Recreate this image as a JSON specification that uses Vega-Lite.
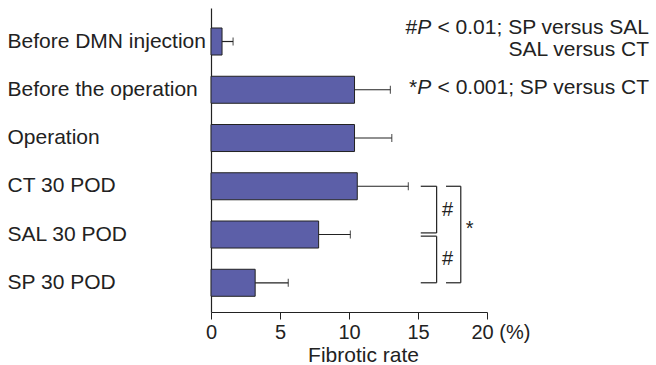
{
  "$schema": "https://vega.github.io/schema/vega-lite/v6.json",
  "width": 276,
  "height": 304,
  "autosize": {"type": "none"},
  "padding": {"left": 211, "top": 8, "right": 169, "bottom": 53},
  "config": {
    "view": {"stroke": null},
    "font": "Liberation Sans",
    "text": {"font": "Liberation Sans", "fontSize": 21, "color": "#222222"},
    "axis": {"domainColor": "#222222", "tickColor": "#222222", "labelColor": "#222222", "titleColor": "#222222", "labelFont": "Liberation Sans", "titleFont": "Liberation Sans", "grid": false, "domainWidth": 1.2}
  },
  "datasets": {
    "bars": [
      {"group": "Before DMN injection", "mean": 0.8, "upper": 1.6},
      {"group": "Before the operation", "mean": 10.4, "upper": 13.0},
      {"group": "Operation", "mean": 10.4, "upper": 13.1},
      {"group": "CT 30 POD", "mean": 10.6, "upper": 14.3},
      {"group": "SAL 30 POD", "mean": 7.8, "upper": 10.1},
      {"group": "SP 30 POD", "mean": 3.2, "upper": 5.6}
    ],
    "hcenter": [
      {"group": "CT 30 POD", "x1": 15.2, "x2": 16.35},
      {"group": "SP 30 POD", "x1": 15.2, "x2": 16.35},
      {"group": "CT 30 POD", "x1": 17.03, "x2": 18.1},
      {"group": "SP 30 POD", "x1": 17.03, "x2": 18.1}
    ],
    "hsal": [
      {"group": "SAL 30 POD", "x1": 15.2, "x2": 16.35}
    ],
    "vert": [
      {"id": "A", "x": 16.35, "from": "CT 30 POD", "to": "SAL 30 POD"},
      {"id": "B", "x": 16.35, "from": "SAL 30 POD", "to": "SP 30 POD"},
      {"id": "O", "x": 18.1, "from": "CT 30 POD", "to": "SP 30 POD"}
    ],
    "hash": [
      {"group": "CT 30 POD", "t": "#", "x": 17.15},
      {"group": "SAL 30 POD", "t": "#", "x": 17.15}
    ],
    "star": [
      {"group": "SAL 30 POD", "t": "*", "x": 18.75}
    ],
    "line1": [
      {"group": "Before DMN injection", "t": "#", "x": 14.95},
      {"group": "Before DMN injection", "t": "< 0.01; SP versus SAL", "x": 31.74}
    ],
    "line1p": [
      {"group": "Before DMN injection", "t": "P", "x": 15.96}
    ],
    "line2": [
      {"group": "Before DMN injection", "t": "SAL versus CT", "x": 31.74}
    ],
    "line3": [
      {"group": "Before the operation", "t": "*", "x": 14.95},
      {"group": "Before the operation", "t": "< 0.001; SP versus CT", "x": 31.74}
    ],
    "line3p": [
      {"group": "Before the operation", "t": "P", "x": 15.96}
    ]
  },
  "layer": [
    {
      "data": {"name": "bars"},
      "mark": {"type": "bar", "color": "#5C5FA8", "stroke": "#222222", "strokeWidth": 1},
      "encoding": {
        "x": {
          "field": "mean", "type": "quantitative",
          "scale": {"domain": [0, 20], "nice": false},
          "axis": {
            "values": [0, 5, 10, 15, 20],
            "tickSize": 7,
            "labelPadding": 3,
            "labelFontSize": 20,
            "labelFlush": false,
            "labelOverlap": false,
            "labelExpr": "datum.value == 20 ? '20 (%)' : datum.label",
            "labelAlign": {"condition": {"test": "datum.value == 20", "value": "left"}, "value": "center"},
            "labelOffset": {"condition": {"test": "datum.value == 20", "value": -16}, "value": 0},
            "title": "Fibrotic rate",
            "titleFontSize": 21,
            "titleFontWeight": "normal",
            "titleBaseline": "alphabetic",
            "titleAlign": "center",
            "titleX": 152,
            "titleY": 49
          }
        },
        "y": {
          "field": "group", "type": "nominal",
          "scale": {
            "domain": ["Before DMN injection", "Before the operation", "Operation", "CT 30 POD", "SAL 30 POD", "SP 30 POD"],
            "paddingInner": 0.44, "paddingOuter": 0.37, "align": 0.56
          },
          "axis": {
            "title": null, "ticks": false, "tickSize": 0,
            "labelAlign": "left", "labelPadding": 204, "labelFontSize": 21,
            "labelBaseline": "middle", "labelLimit": 0
          }
        }
      }
    },
    {
      "data": {"name": "bars"},
      "mark": {"type": "rule", "color": "#222222", "strokeWidth": 1.2},
      "encoding": {
        "x": {"field": "mean", "type": "quantitative"},
        "x2": {"field": "upper"},
        "y": {"field": "group", "type": "nominal", "bandPosition": 0.5}
      }
    },
    {
      "data": {"name": "bars"},
      "mark": {"type": "tick", "orient": "vertical", "size": 8, "thickness": 1.2, "color": "#222222"},
      "encoding": {
        "x": {"field": "upper", "type": "quantitative"},
        "y": {"field": "group", "type": "nominal"}
      }
    },
    {
      "data": {"name": "hcenter"},
      "mark": {"type": "rule", "color": "#222222", "strokeWidth": 1.2},
      "encoding": {
        "x": {"field": "x1", "type": "quantitative"},
        "x2": {"field": "x2"},
        "y": {"field": "group", "type": "nominal", "bandPosition": 0.5}
      }
    },
    {
      "data": {"name": "hsal"},
      "mark": {"type": "rule", "color": "#222222", "strokeWidth": 1.2},
      "encoding": {
        "x": {"field": "x1", "type": "quantitative"},
        "x2": {"field": "x2"},
        "y": {"field": "group", "type": "nominal", "bandPosition": 0.44}
      }
    },
    {
      "data": {"name": "hsal"},
      "mark": {"type": "rule", "color": "#222222", "strokeWidth": 1.2},
      "encoding": {
        "x": {"field": "x1", "type": "quantitative"},
        "x2": {"field": "x2"},
        "y": {"field": "group", "type": "nominal", "bandPosition": 0.56}
      }
    },
    {
      "data": {"name": "vert"},
      "transform": [{"filter": "datum.id == 'A'"}],
      "mark": {"type": "rule", "color": "#222222", "strokeWidth": 1.2},
      "encoding": {
        "x": {"field": "x", "type": "quantitative"},
        "y": {"field": "from", "type": "nominal", "bandPosition": 0.5},
        "y2": {"field": "to", "bandPosition": 0.44}
      }
    },
    {
      "data": {"name": "vert"},
      "transform": [{"filter": "datum.id == 'B'"}],
      "mark": {"type": "rule", "color": "#222222", "strokeWidth": 1.2},
      "encoding": {
        "x": {"field": "x", "type": "quantitative"},
        "y": {"field": "from", "type": "nominal", "bandPosition": 0.56},
        "y2": {"field": "to", "bandPosition": 0.5}
      }
    },
    {
      "data": {"name": "vert"},
      "transform": [{"filter": "datum.id == 'O'"}],
      "mark": {"type": "rule", "color": "#222222", "strokeWidth": 1.2},
      "encoding": {
        "x": {"field": "x", "type": "quantitative"},
        "y": {"field": "from", "type": "nominal", "bandPosition": 0.5},
        "y2": {"field": "to", "bandPosition": 0.5}
      }
    },
    {
      "data": {"name": "hash"},
      "mark": {"type": "text", "align": "center", "baseline": "middle", "fontSize": 20},
      "encoding": {
        "x": {"field": "x", "type": "quantitative"},
        "y": {"field": "group", "type": "nominal", "bandPosition": 1.39},
        "text": {"field": "t"}
      }
    },
    {
      "data": {"name": "star"},
      "mark": {"type": "text", "align": "center", "baseline": "middle", "fontSize": 20},
      "encoding": {
        "x": {"field": "x", "type": "quantitative"},
        "y": {"field": "group", "type": "nominal", "bandPosition": 0.3},
        "text": {"field": "t"}
      }
    },
    {
      "data": {"name": "line1"},
      "mark": {"type": "text", "align": "right", "baseline": "middle"},
      "encoding": {
        "x": {"field": "x", "type": "quantitative"},
        "y": {"field": "group", "type": "nominal", "bandPosition": 0.0},
        "text": {"field": "t"}
      }
    },
    {
      "data": {"name": "line1p"},
      "mark": {"type": "text", "align": "right", "baseline": "middle", "fontStyle": "italic"},
      "encoding": {
        "x": {"field": "x", "type": "quantitative"},
        "y": {"field": "group", "type": "nominal", "bandPosition": 0.0},
        "text": {"field": "t"}
      }
    },
    {
      "data": {"name": "line2"},
      "mark": {"type": "text", "align": "right", "baseline": "middle"},
      "encoding": {
        "x": {"field": "x", "type": "quantitative"},
        "y": {"field": "group", "type": "nominal", "bandPosition": 0.82},
        "text": {"field": "t"}
      }
    },
    {
      "data": {"name": "line3"},
      "mark": {"type": "text", "align": "right", "baseline": "middle"},
      "encoding": {
        "x": {"field": "x", "type": "quantitative"},
        "y": {"field": "group", "type": "nominal", "bandPosition": 0.42},
        "text": {"field": "t"}
      }
    },
    {
      "data": {"name": "line3p"},
      "mark": {"type": "text", "align": "right", "baseline": "middle", "fontStyle": "italic"},
      "encoding": {
        "x": {"field": "x", "type": "quantitative"},
        "y": {"field": "group", "type": "nominal", "bandPosition": 0.42},
        "text": {"field": "t"}
      }
    }
  ]
}
